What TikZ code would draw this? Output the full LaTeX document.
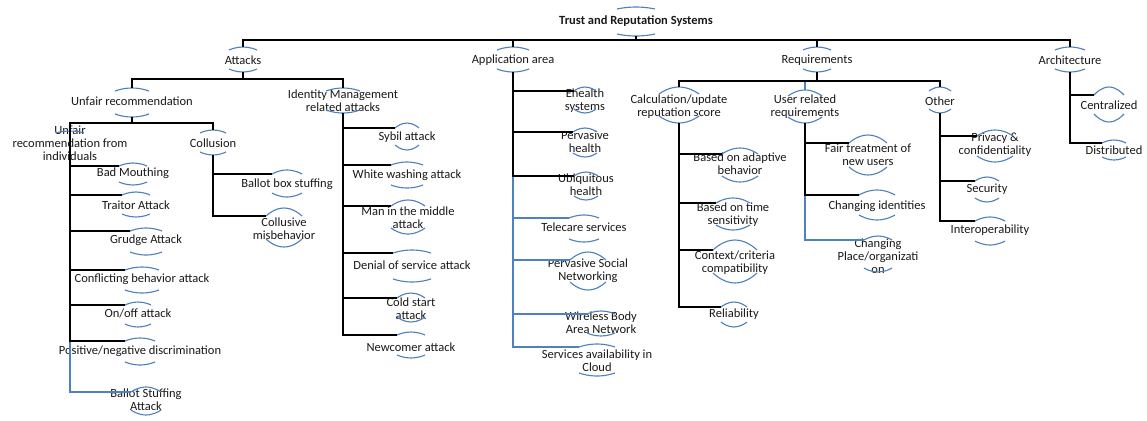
\documentclass[tikz,border=0pt]{standalone}
\usepackage{fontspec}
\setmainfont{Carlito}
\usepackage{tikz}
\usetikzlibrary{positioning}
\definecolor{arcblue}{HTML}{4F81BD}

\begin{document}
\begin{tikzpicture}[
    x=0.8pt, y=-0.8pt,
    lbl/.style={
        inner sep=0pt,
        align=center,
        text=black!90,
        font=\fontsize{10}{10.6}\selectfont
    },
    ovl/.style={
        draw=arcblue,
        line width=0.9pt
    },
    link/.style={
        draw=black,
        line width=1.2pt
    },
    blink/.style={
        link,
        draw=arcblue
    }
]
\useasboundingbox (0,0) rectangle (1147,420);

\node[lbl, font=\fontsize{10}{10.6}\selectfont\bfseries] (trs) at (636,21) {Trust and Reputation Systems};

\node[lbl] (att) at (243,60) {Attacks};
\node[lbl] (app) at (513,60) {Application area};
\node[lbl] (req) at (817,60) {Requirements};
\node[lbl] (archi) at (1070,60) {Architecture};

% attacks
\node[lbl] (unf) at (132,101) {Unfair recommendation};
\node[lbl] (idm) at (343,101) {Identity Management\\related attacks};
\node[lbl] (ind) at (70,143) {Unfair\\recommendation from\\individuals};
\node[lbl] (col) at (213,143) {Collusion};
\node[lbl] (bad) at (133,173) {Bad Mouthing};
\node[lbl] (tra) at (136,205) {Traitor Attack};
\node[lbl] (gru) at (146,240) {Grudge Attack};
\node[lbl] (con) at (142,279) {Conflicting behavior attack};
\node[lbl] (onf) at (138,313) {On/off attack};
\node[lbl] (pos) at (140,351) {Positive/negative discrimination};
\node[lbl] (bsa) at (146,400) {Ballot Stuffing\\Attack};
\node[lbl] (bbs) at (287,184) {Ballot box stuffing};
\node[lbl] (cmb) at (284,229) {Collusive\\misbehavior};
\node[lbl] (syb) at (407,137) {Sybil attack};
\node[lbl] (wwa) at (407,175) {White washing attack};
\node[lbl] (mim) at (408,218) {Man in the middle\\attack};
\node[lbl] (dos) at (412,265) {Denial of service attack};
\node[lbl] (csa) at (411,309) {Cold start\\attack};
\node[lbl] (new) at (411,347) {Newcomer attack};

% application area
\node[lbl] (ehs) at (585,101) {Ehealth\\systems};
\node[lbl] (pvh) at (585,142) {Pervasive\\health};
\node[lbl] (ubh) at (586,185) {Ubiquitous\\health};
\node[lbl] (tel) at (584,227) {Telecare services};
\node[lbl] (psn) at (588,271) {Pervasive Social\\Networking};
\node[lbl] (wba) at (601,323) {Wireless Body\\Area Network};
\node[lbl] (sac) at (597,361) {Services availability in\\Cloud};

% requirements
\node[lbl] (cal) at (679,107) {Calculation/update\\reputation score};
\node[lbl] (bab) at (740,164) {Based on adaptive\\behavior};
\node[lbl] (bts) at (733,215) {Based on time\\sensitivity};
\node[lbl] (ccc) at (735,263) {Context/criteria\\compatibility};
\node[lbl] (rel) at (734,314) {Reliability};
\node[lbl] (urr) at (805,107) {User related\\requirements};
\node[lbl] (fai) at (868,155) {Fair treatment of\\new users};
\node[lbl] (chi) at (877,206) {Changing identities};
\node[lbl] (cpo) at (878,256) {Changing\\Place/organizati\\on};
\node[lbl] (oth) at (940,101) {Other};
\node[lbl] (pri) at (995,145) {Privacy \&\\confidentiality};
\node[lbl] (sec) at (987,189) {Security};
\node[lbl] (int) at (990,230) {Interoperability};

% architecture
\node[lbl] (cen) at (1109,105) {Centralized};
\node[lbl] (dis) at (1114,150) {Distributed};

% arcs over and under the labels: name/half width/top/bottom/sag
\foreach \n/\hw/\ta/\tb/\sg in {
    trs/19/-14/15/2, att/14/-13/12/3, app/16/-13/12/3, req/14/-13/12/3,
    archi/15/-13/12/3, unf/17/-13/16/3, idm/17/-13/12/3, col/13/-13/12/3,
    bad/14/-10/12/3, tra/14/-13/12/3, gru/16/-12/15/3, con/17/-12/14/3,
    onf/13/-11/14/3, pos/15/-13/14/3, bsa/15/-13/15/5, bbs/15/-14/13/4,
    cmb/18/-21/18/8, syb/12/-14/13/5, wwa/16/-13/13/3, mim/17/-18/16/6,
    dos/19/-15/17/3, csa/14/-16/13/5, new/14/-15/11/3,
    ehs/11/-14/12/4, pvh/12/-14/15/4, ubh/12/-13/15/4, tel/15/-12/15/3,
    psn/18/-19/19/8, wba/14/-12/13/3, sac/18/-17/15/3,
    cal/20/-20/16/7, bab/18/-16/18/6, bts/17/-17/15/5, ccc/22/-23/20/10,
    rel/13/-12/13/5, urr/17/-17/16/6, fai/19/-20/20/8, chi/18/-16/14/5,
    cpo/14/-20/16/4, oth/11/-14/12/4, pri/18/-15/17/6, sec/12/-12/13/4,
    int/15/-13/15/4, cen/15/-18/17/8, dis/12/-10/10/3}{
    \draw[ovl] ([shift={(-\hw,\ta+\sg)}]\n.center) coordinate (\n-l)
        parabola bend ([shift={(0,\ta)}]\n.center) ([shift={(\hw,\ta+\sg)}]\n.center);
    \draw[ovl] ([shift={(-\hw,\tb-\sg)}]\n.center)
        parabola bend ([shift={(0,\tb)}]\n.center) ([shift={(\hw,\tb-\sg)}]\n.center);
    \coordinate (\n-t) at ([shift={(0,\ta)}]\n.center);
    \coordinate (\n-b) at ([shift={(0,\tb)}]\n.center);
}
\draw[ovl] ([shift={(-14,-10)}]ind.center) coordinate (ind-l)
    parabola bend ([shift={(0,-12)}]ind.center) ([shift={(14,-10)}]ind.center);
\coordinate (ind-t) at ([shift={(0,-12)}]ind.center);

% connectors
\foreach \c in {att,app,req,archi} \draw[link] (trs-b) -- ++(0,4) -| (\c-t);

\foreach \c in {unf,idm} \draw[link] (att-b) -- ++(0,7) -| (\c-t);
\foreach \c in {ind,col} \draw[link] (unf-b) -- ++(0,6) -| (\c-t);
\draw[blink] (ind-t) |- (bsa-l);
\foreach \c in {bad,tra,gru,con,onf,pos} \draw[link] (ind-t) |- (\c-l);
\foreach \c in {bbs,cmb} \draw[link] (col-b) |- (\c-l);
\foreach \c in {syb,wwa,mim,dos,csa,new} \draw[link] (idm-b) |- (\c-l);

\foreach \c in {tel,psn,wba,sac} \draw[blink] (app-b) |- (\c-l);
\foreach \c in {ehs,pvh,ubh} \draw[link] (app-b) |- (\c-l);

\draw[blink] (req-b) -- ++(0,9) -| (urr-t);
\foreach \c in {cal,oth} \draw[link] (req-b) -- ++(0,9) -| (\c-t);
\foreach \c in {bab,bts,ccc,rel} \draw[link] (cal-b) |- (\c-l);
\draw[blink] (urr-b) |- (cpo-l);
\foreach \c in {fai,chi} \draw[link] (urr-b) |- (\c-l);
\foreach \c in {pri,sec,int} \draw[link] (oth-b) |- (\c-l);

\foreach \c in {cen,dis} \draw[link] (archi-b) |- (\c-l);

\end{tikzpicture}
\end{document}
